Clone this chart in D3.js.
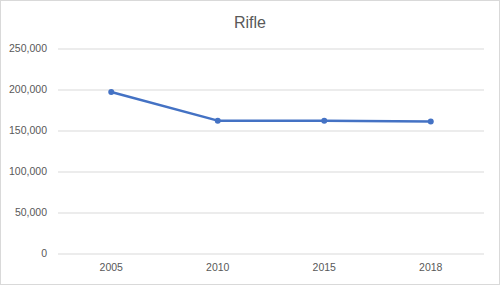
<!DOCTYPE html>
<html>
<head>
<meta charset="utf-8">
<script src="https://cdn.jsdelivr.net/npm/d3@7"></script>
<style>
  body { margin: 0; background: #fff; }
  svg { display: block; font-family: "Liberation Sans", Arial, sans-serif; }
  .axis text { fill: #595959; font-size: 10.5px; }
  .axis path, .axis line { display: none; }
  .grid line { stroke: #d9d9d9; stroke-width: 1; }
</style>
</head>
<body>
<div id="chart-area"></div>
<script>

// DATA

var years = ["2005", "2010", "2015", "2018"];
var rifle = [197000, 162000, 162000, 161000];
var yTicks = [0, 50000, 100000, 150000, 200000, 250000];

// CHART AREA

var W = 500, H = 285;
var margin = {top: 48.5, right: 16, bottom: 31.5, left: 58},
    width = W - margin.left - margin.right,
    height = H - margin.top - margin.bottom;

var root = d3.select("#chart-area").append("svg")
    .attr("width", W)
    .attr("height", H);

root.append("rect")
    .attr("x", 0.5).attr("y", 0.5)
    .attr("width", W - 1).attr("height", H - 1)
    .attr("fill", "#fff")
    .attr("stroke", "#d9d9d9");

root.append("text")
    .attr("x", W / 2)
    .attr("y", 28)
    .attr("text-anchor", "middle")
    .attr("fill", "#595959")
    .style("font-size", "16px")
    .text("Rifle");

var svg = root.append("g")
    .attr("transform", "translate(" + margin.left + "," + margin.top + ")");

// SCALES

var x = d3.scaleBand()
    .domain(years)
    .range([0, width]);

var y = d3.scaleLinear()
    .domain([0, 250000])
    .range([height, 0]);

// GRID

svg.append("g")
    .attr("class", "grid")
    .selectAll("line")
    .data(yTicks)
    .enter().append("line")
    .attr("x1", 0)
    .attr("x2", width)
    .attr("y1", function(d) { return Math.round(y(d)) + 0.5; })
    .attr("y2", function(d) { return Math.round(y(d)) + 0.5; });

// AXES

svg.append("g")
    .attr("class", "axis")
    .call(d3.axisLeft(y).tickValues(yTicks).tickSize(0).tickPadding(11)
        .tickFormat(d3.format(",")));

svg.append("g")
    .attr("class", "axis")
    .attr("transform", "translate(0," + height + ")")
    .call(d3.axisBottom(x).tickSize(0).tickPadding(10));

// LINE

var line = d3.line()
    .x(function(d, i) { return x(years[i]) + x.bandwidth() / 2; })
    .y(function(d) { return y(d); });

svg.append("path")
    .datum(rifle)
    .attr("fill", "none")
    .attr("stroke", "#4472c4")
    .attr("stroke-width", 2.5)
    .attr("stroke-linejoin", "round")
    .attr("d", line);

svg.selectAll(".dot")
    .data(rifle)
    .enter().append("circle")
    .attr("class", "dot")
    .attr("cx", function(d, i) { return x(years[i]) + x.bandwidth() / 2; })
    .attr("cy", function(d) { return y(d); })
    .attr("r", 3)
    .attr("fill", "#4472c4");

</script>
</body>
</html>
